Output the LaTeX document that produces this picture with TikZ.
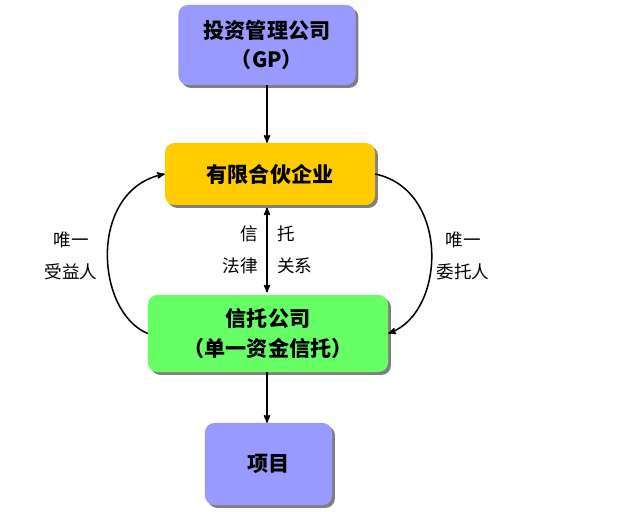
\documentclass[tikz,border=0pt]{standalone}
\usepackage{fontspec}
\setmainfont{Noto Sans CJK SC}
\usetikzlibrary{arrows}
\usetikzlibrary{shadows}

\definecolor{gpblue}{RGB}{153,153,255}
\definecolor{lpyellow}{RGB}{255,204,0}
\definecolor{trustgreen}{RGB}{102,255,102}

\tikzset{
  box/.style={rounded corners=8pt, inner sep=0pt, align=center,
    font=\fontsize{18}{25}\selectfont\bfseries,
    drop shadow={shadow xshift=2.5pt, shadow yshift=-2.5pt, fill=black!50, opacity=1}},
  tag/.style={font=\fontsize{15}{27}\selectfont},
  link/.style={line width=1.3pt, >=stealth'},
}

\begin{document}
\begin{tikzpicture}[x=0.03cm, y=-0.03cm]
\useasboundingbox (0,0) rectangle (635,512);
\node[box, fill=gpblue, minimum width=5.31cm, minimum height=2.4cm] (gp) at (267,45) {投资管理公司\\（GP）};
\node[box, fill=lpyellow, minimum width=6.3cm, minimum height=1.86cm] (lp) at (270,174) {有限合伙企业};
\node[box, fill=trustgreen, minimum width=7.2cm, minimum height=2.31cm] (trust) at (268,333.5) {信托公司\\（单一资金信托）};
\node[box, fill=gpblue, minimum width=3.81cm, minimum height=2.46cm] (proj) at (268.5,464) {项目};
% arrows down the middle
\draw[link, ->] (gp.south) -- (gp.south |- lp.north);
\draw[link, <->, shorten <=2pt, shorten >=2pt] (gp.south |- lp.south) -- (gp.south |- trust.north);
\draw[link, ->] (gp.south |- trust.south) -- (gp.south |- proj.north);
\node[tag, anchor=east, align=right] (lawl) at (262,250) {信\\法律};
\node[tag, anchor=west, align=left] (lawr) at (273,250) {托\\关系};
% side curves
\draw[link, ->] (trust.west) .. controls (95,312) and (88,190) .. (lp.west);
\draw[link, ->] (lp.east) .. controls (450,190) and (446,312) .. (trust.east);
\node[tag, align=center] (benef) at (71,256) {唯一\\受益人};
\node[tag, align=center] (settl) at (463,256) {唯一\\委托人};
\end{tikzpicture}
\end{document}
